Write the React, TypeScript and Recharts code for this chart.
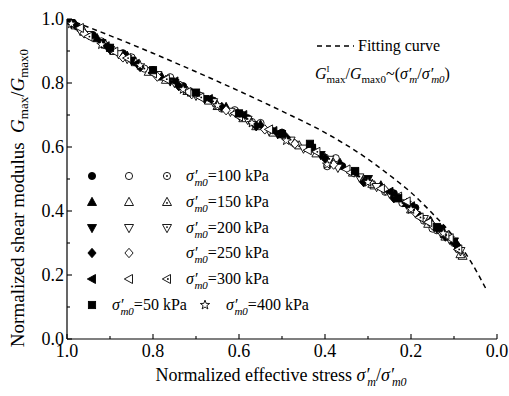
import { Scatter, ScatterChart, XAxis, YAxis } from "recharts"

type Pt = [number, number]

const xTicks = [0, 0.1, 0.2, 0.3, 0.4, 0.5, 0.6, 0.7, 0.8, 0.9, 1.0]
const yTicks = [0, 0.1, 0.2, 0.3, 0.4, 0.5, 0.6, 0.7, 0.8, 0.9, 1.0]

// dashed fitting curve
const fittingCurve: Pt[] = [
  [1.0, 1.0], [0.9, 0.948], [0.8, 0.893], [0.7, 0.835], [0.6, 0.775],
  [0.5, 0.712], [0.4, 0.645], [0.3, 0.562], [0.25, 0.512], [0.2, 0.458],
  [0.15, 0.392], [0.1, 0.318], [0.06, 0.24], [0.023, 0.15],
]

// sigma'm0 = 100 kPa
const circleFilled100: Pt[] = [
  [1.0, 1.0], [0.94, 0.95], [0.87, 0.893], [0.8, 0.84], [0.73, 0.79], [0.66, 0.745],
  [0.58, 0.69], [0.5, 0.645], [0.43, 0.6], [0.36, 0.54], [0.24, 0.455], [0.19, 0.41], [0.13, 0.345],
]
const circleOpen100: Pt[] = [
  [0.99, 0.99], [0.92, 0.93], [0.85, 0.88], [0.76, 0.818], [0.69, 0.76], [0.61, 0.715],
  [0.55, 0.675], [0.4, 0.567], [0.375, 0.565], [0.26, 0.46], [0.17, 0.37], [0.14, 0.34], [0.1, 0.3],
]
const circleDot100: Pt[] = [
  [0.97, 0.97], [0.9, 0.91], [0.82, 0.845], [0.74, 0.795], [0.64, 0.72], [0.57, 0.678],
  [0.47, 0.61], [0.395, 0.54], [0.31, 0.495], [0.22, 0.425], [0.15, 0.345], [0.09, 0.28],
]

// 150 kPa
const triFilled150: Pt[] = [
  [1.0, 0.995], [0.93, 0.94], [0.86, 0.885], [0.78, 0.82], [0.71, 0.77], [0.63, 0.725],
  [0.55, 0.67], [0.44, 0.6], [0.365, 0.55], [0.27, 0.48], [0.21, 0.425], [0.155, 0.37], [0.09, 0.29],
]
const triOpen150: Pt[] = [
  [0.98, 0.98], [0.91, 0.92], [0.84, 0.865], [0.77, 0.81], [0.67, 0.745], [0.59, 0.69],
  [0.52, 0.645], [0.42, 0.58], [0.335, 0.52], [0.285, 0.48], [0.2, 0.405], [0.12, 0.32], [0.08, 0.26],
]
const triDot150: Pt[] = [
  [0.96, 0.96], [0.89, 0.9], [0.81, 0.835], [0.72, 0.775], [0.65, 0.728], [0.56, 0.665],
  [0.46, 0.605], [0.38, 0.55], [0.29, 0.485], [0.23, 0.44], [0.16, 0.36], [0.085, 0.265],
]

// 200 kPa
const downFilled200: Pt[] = [
  [0.99, 0.985], [0.92, 0.925], [0.85, 0.87], [0.76, 0.805], [0.68, 0.75], [0.6, 0.7],
  [0.51, 0.64], [0.41, 0.575], [0.3, 0.5], [0.21, 0.42], [0.14, 0.345], [0.1, 0.305],
]
const downOpen200: Pt[] = [
  [0.97, 0.965], [0.88, 0.89], [0.79, 0.825], [0.7, 0.76], [0.62, 0.71], [0.53, 0.65],
  [0.45, 0.595], [0.37, 0.535], [0.28, 0.475], [0.2, 0.41], [0.13, 0.33], [0.085, 0.275],
]
const downDot200: Pt[] = [
  [0.95, 0.95], [0.86, 0.875], [0.75, 0.8], [0.66, 0.74], [0.58, 0.685], [0.48, 0.62],
  [0.39, 0.56], [0.32, 0.505], [0.25, 0.455], [0.17, 0.375], [0.11, 0.31],
]

// 250 kPa
const diamondFilled250: Pt[] = [
  [0.98, 0.98], [0.9, 0.905], [0.83, 0.85], [0.74, 0.79], [0.64, 0.725], [0.56, 0.665],
  [0.49, 0.63], [0.4, 0.565], [0.31, 0.49], [0.24, 0.44], [0.18, 0.385], [0.12, 0.32], [0.095, 0.295],
]
const diamondOpen250: Pt[] = [
  [0.96, 0.955], [0.87, 0.88], [0.79, 0.82], [0.71, 0.765], [0.63, 0.715], [0.54, 0.655],
  [0.47, 0.61], [0.38, 0.545], [0.26, 0.465], [0.19, 0.395], [0.15, 0.355],
]

// 300 kPa
const leftFilled300: Pt[] = [
  [0.99, 0.99], [0.91, 0.915], [0.84, 0.86], [0.75, 0.805], [0.67, 0.75], [0.59, 0.7],
  [0.52, 0.65], [0.43, 0.595], [0.33, 0.52], [0.25, 0.46], [0.2, 0.415], [0.13, 0.34], [0.1, 0.3],
]
const leftOpen300: Pt[] = [
  [0.97, 0.972], [0.89, 0.898], [0.8, 0.83], [0.72, 0.772], [0.61, 0.705], [0.53, 0.655],
  [0.44, 0.59], [0.35, 0.53], [0.27, 0.47], [0.21, 0.43], [0.16, 0.365], [0.11, 0.315],
]
const leftDot300: Pt[] = [
  [0.95, 0.945], [0.86, 0.878], [0.77, 0.812], [0.69, 0.755], [0.6, 0.695], [0.5, 0.635],
  [0.42, 0.585], [0.34, 0.52], [0.23, 0.445], [0.18, 0.38], [0.12, 0.325], [0.09, 0.28],
]

// 50 kPa and 400 kPa
const squareFilled50: Pt[] = [
  [1.0, 1.0], [0.9, 0.91], [0.8, 0.84], [0.7, 0.77], [0.6, 0.705], [0.5, 0.64],
  [0.435, 0.61], [0.33, 0.525], [0.23, 0.44], [0.14, 0.35],
]
const starOpen400: Pt[] = [
  [0.99, 0.985], [0.92, 0.92], [0.83, 0.855], [0.73, 0.78], [0.65, 0.73], [0.57, 0.675],
  [0.49, 0.62], [0.395, 0.545], [0.3, 0.49], [0.2, 0.405], [0.125, 0.33],
]

type Kind = "circle" | "up" | "down" | "diamond" | "left" | "square" | "star"
type Fill = "filled" | "open" | "dot"

const series: { kind: Kind; fill: Fill; data: Pt[] }[] = [
  { kind: "circle", fill: "filled", data: circleFilled100 },
  { kind: "circle", fill: "open", data: circleOpen100 },
  { kind: "circle", fill: "dot", data: circleDot100 },
  { kind: "up", fill: "filled", data: triFilled150 },
  { kind: "up", fill: "open", data: triOpen150 },
  { kind: "up", fill: "dot", data: triDot150 },
  { kind: "down", fill: "filled", data: downFilled200 },
  { kind: "down", fill: "open", data: downOpen200 },
  { kind: "down", fill: "dot", data: downDot200 },
  { kind: "diamond", fill: "filled", data: diamondFilled250 },
  { kind: "diamond", fill: "open", data: diamondOpen250 },
  { kind: "left", fill: "filled", data: leftFilled300 },
  { kind: "left", fill: "open", data: leftOpen300 },
  { kind: "left", fill: "dot", data: leftDot300 },
  { kind: "square", fill: "filled", data: squareFilled50 },
  { kind: "star", fill: "open", data: starOpen400 },
]

const legendRows: { kinds: Kind; fills: (Fill | null)[]; label: string }[] = [
  { kinds: "circle", fills: ["filled", "open", "dot"], label: "100" },
  { kinds: "up", fills: ["filled", "open", "dot"], label: "150" },
  { kinds: "down", fills: ["filled", "open", "dot"], label: "200" },
  { kinds: "diamond", fills: ["filled", "open", null], label: "250" },
  { kinds: "left", fills: ["filled", "open", "dot"], label: "300" },
]

const FONT = "Liberation Serif"

const toRows = (pts: Pt[]) => pts.map(([x, y]) => ({ x, y }))

function starPoints(cx: number, cy: number, ro: number, ri: number) {
  const out: string[] = []
  for (let i = 0; i < 10; i++) {
    const r = i % 2 === 0 ? ro : ri
    const a = -Math.PI / 2 + (i * Math.PI) / 5
    out.push(`${cx + r * Math.cos(a)},${cy + r * Math.sin(a)}`)
  }
  return out.join(" ")
}

function Marker({ cx, cy, kind, fill }: { cx: number; cy: number; kind: Kind; fill: Fill }) {
  const p = { fill: fill === "filled" ? "#000" : "#fff", stroke: "#000", strokeWidth: 0.9 }
  let shape = null
  let dx = 0
  let dy = 0
  switch (kind) {
    case "circle":
      shape = <circle cx={cx} cy={cy} r={3.6} {...p} />
      break
    case "up":
      shape = <polygon points={`${cx},${cy - 4.7} ${cx + 4.5},${cy + 3.5} ${cx - 4.5},${cy + 3.5}`} {...p} />
      dy = 0.9
      break
    case "down":
      shape = <polygon points={`${cx},${cy + 4.7} ${cx + 4.5},${cy - 3.5} ${cx - 4.5},${cy - 3.5}`} {...p} />
      dy = -0.9
      break
    case "left":
      shape = <polygon points={`${cx - 4.7},${cy} ${cx + 3.5},${cy - 4.5} ${cx + 3.5},${cy + 4.5}`} {...p} />
      dx = 0.9
      break
    case "diamond":
      shape = <polygon points={`${cx},${cy - 4.7} ${cx + 4.1},${cy} ${cx},${cy + 4.7} ${cx - 4.1},${cy}`} {...p} />
      break
    case "square":
      shape = <rect x={cx - 3.6} y={cy - 3.6} width={7.2} height={7.2} {...p} />
      break
    case "star":
      shape = <polygon points={starPoints(cx, cy, 4.9, 2)} {...p} />
      break
  }
  return (
    <g>
      {shape}
      {fill === "dot" && <circle cx={cx + dx} cy={cy + dy} r={0.9} fill="#000" />}
    </g>
  )
}

const isMajor = (v: number) => Math.round(v * 10) % 2 === 0

function XTick(props: any) {
  const { x, y, payload, side } = props
  const len = isMajor(payload.value) ? 5 : 3
  const dir = side === "bottom" ? -1 : 1
  return (
    <g>
      <line x1={x} y1={y} x2={x} y2={y + dir * len} stroke="#000" strokeWidth={1.1} />
      {side === "bottom" && isMajor(payload.value) && (
        <text x={x} y={y + 18} textAnchor="middle" fontSize={18} style={{ fontFamily: FONT }} fill="#000">
          {payload.value.toFixed(1)}
        </text>
      )}
    </g>
  )
}

function YTick(props: any) {
  const { x, y, payload, side } = props
  const len = isMajor(payload.value) ? 5 : 3
  const dir = side === "left" ? 1 : -1
  return (
    <g>
      <line x1={x} y1={y} x2={x + dir * len} y2={y} stroke="#000" strokeWidth={1.1} />
      {side === "left" && isMajor(payload.value) && (
        <text x={x - 3} y={y + 6} textAnchor="end" fontSize={18} style={{ fontFamily: FONT }} fill="#000">
          {payload.value.toFixed(1)}
        </text>
      )}
    </g>
  )
}

function SigmaLabel({ x, y, value }: { x: number; y: number; value: string }) {
  return (
    <text x={x} y={y} fontSize={16} fill="#000" style={{ fontFamily: FONT }}>
      <tspan fontStyle="italic">σ′</tspan>
      <tspan fontStyle="italic" fontSize={11} dx={-3} dy={5}>m0</tspan>
      <tspan dy={-5}>={value} kPa</tspan>
    </text>
  )
}

function Overlay() {
  const cols = [92, 129, 167]
  const rowY = [176, 202, 228, 253, 279]
  return (
    <svg
      width={509}
      height={396}
      style={{ position: "absolute", left: 0, top: 0, pointerEvents: "none", fontFamily: FONT }}
    >
      {/* marker legend */}
      {legendRows.map((row, i) => (
        <g key={row.label}>
          {row.fills.map((f, j) =>
            f ? <Marker key={j} cx={cols[j]} cy={rowY[i]} kind={row.kinds} fill={f} /> : null
          )}
          <SigmaLabel x={186} y={rowY[i] + 5} value={row.label} />
        </g>
      ))}
      <Marker cx={92} cy={305} kind="square" fill="filled" />
      <SigmaLabel x={112} y={310} value="50" />
      <Marker cx={205} cy={305} kind="star" fill="open" />
      <SigmaLabel x={226} y={310} value="400" />

      {/* fitting curve legend */}
      <line x1={317} x2={354} y1={46} y2={46} stroke="#000" strokeWidth={1.4} strokeDasharray="5 4" />
      <text x={358} y={51} fontSize={16} fill="#000" style={{ fontFamily: FONT }}>Fitting curve</text>
      <text x={315} y={79} fontSize={16} fill="#000" style={{ fontFamily: FONT }}>
        <tspan fontStyle="italic">G</tspan>
        <tspan fontSize={9} dy={-7}>I</tspan>
        <tspan fontSize={11} dx={-3} dy={11}>max</tspan>
        <tspan dy={-4}>/</tspan>
        <tspan fontStyle="italic">G</tspan>
        <tspan fontSize={11} dy={4}>max0</tspan>
        <tspan dy={-4}>~(</tspan>
        <tspan fontStyle="italic">σ′</tspan>
        <tspan fontStyle="italic" fontSize={11} dx={-2} dy={4}>m</tspan>
        <tspan dy={-4}>/</tspan>
        <tspan fontStyle="italic">σ′</tspan>
        <tspan fontStyle="italic" fontSize={11} dx={-2} dy={4}>m0</tspan>
        <tspan dy={-4}>)</tspan>
      </text>

      {/* axis titles */}
      <text x={281} y={381} textAnchor="middle" fontSize={18} fill="#000" style={{ fontFamily: FONT }}>
        Normalized effective stress{" "}
        <tspan fontStyle="italic">σ′</tspan>
        <tspan fontStyle="italic" fontSize={12} dx={-2} dy={5}>m</tspan>
        <tspan dy={-5}>/</tspan>
        <tspan fontStyle="italic">σ′</tspan>
        <tspan fontStyle="italic" fontSize={12} dx={-2} dy={5}>m0</tspan>
      </text>
      <text
        transform="translate(24,198) rotate(-90)"
        textAnchor="middle"
        fontSize={19}
        fill="#000"
        style={{ fontFamily: FONT }}
      >
        Normalized shear modulus{"\u00a0\u00a0"}
        <tspan fontStyle="italic">G</tspan>
        <tspan fontSize={13} dy={4}>max</tspan>
        <tspan dy={-4}>/</tspan>
        <tspan fontStyle="italic">G</tspan>
        <tspan fontSize={13} dy={4}>max0</tspan>
      </text>
    </svg>
  )
}

const axisLine = { stroke: "#000", strokeWidth: 1.2 }

export default function App() {
  return (
    <div style={{ position: "absolute", left: 0, top: 0, width: 509, height: 396, background: "#fff" }}>
      <ScatterChart width={509} height={396} margin={{ top: 19, right: 12, bottom: 0, left: 0 }}>
        <XAxis
          xAxisId="b"
          type="number"
          dataKey="x"
          domain={[0, 1]}
          reversed
          ticks={xTicks}
          interval={0}
          tickSize={0}
          tickMargin={0}
          tickLine={false}
          tick={<XTick side="bottom" />}
          axisLine={axisLine}
          height={57}
          allowDataOverflow
        />
        <XAxis
          xAxisId="t"
          orientation="top"
          type="number"
          dataKey="x"
          domain={[0, 1]}
          reversed
          ticks={xTicks}
          interval={0}
          tickSize={0}
          tickMargin={0}
          tickLine={false}
          tick={<XTick side="top" />}
          axisLine={axisLine}
          height={0}
          allowDataOverflow
        />
        <YAxis
          yAxisId="l"
          type="number"
          dataKey="y"
          domain={[0, 1]}
          ticks={yTicks}
          interval={0}
          tickSize={0}
          tickMargin={0}
          tickLine={false}
          tick={<YTick side="left" />}
          axisLine={axisLine}
          width={67}
          allowDataOverflow
        />
        <YAxis
          yAxisId="r"
          orientation="right"
          type="number"
          dataKey="y"
          domain={[0, 1]}
          ticks={yTicks}
          interval={0}
          tickSize={0}
          tickMargin={0}
          tickLine={false}
          tick={<YTick side="right" />}
          axisLine={axisLine}
          width={0}
          allowDataOverflow
        />
        <Scatter
          xAxisId="b"
          yAxisId="l"
          data={toRows(fittingCurve)}
          line={{ stroke: "#000", strokeWidth: 1.5, strokeDasharray: "5 4" }}
          lineJointType="monotoneX"
          shape={() => <g />}
          isAnimationActive={false}
        />
        {series.map((s, i) => (
          <Scatter
            key={i}
            xAxisId="b"
            yAxisId="l"
            data={toRows(s.data)}
            shape={(p: any) => <Marker cx={p.cx} cy={p.cy} kind={s.kind} fill={s.fill} />}
            isAnimationActive={false}
          />
        ))}
      </ScatterChart>
      <Overlay />
    </div>
  )
}
